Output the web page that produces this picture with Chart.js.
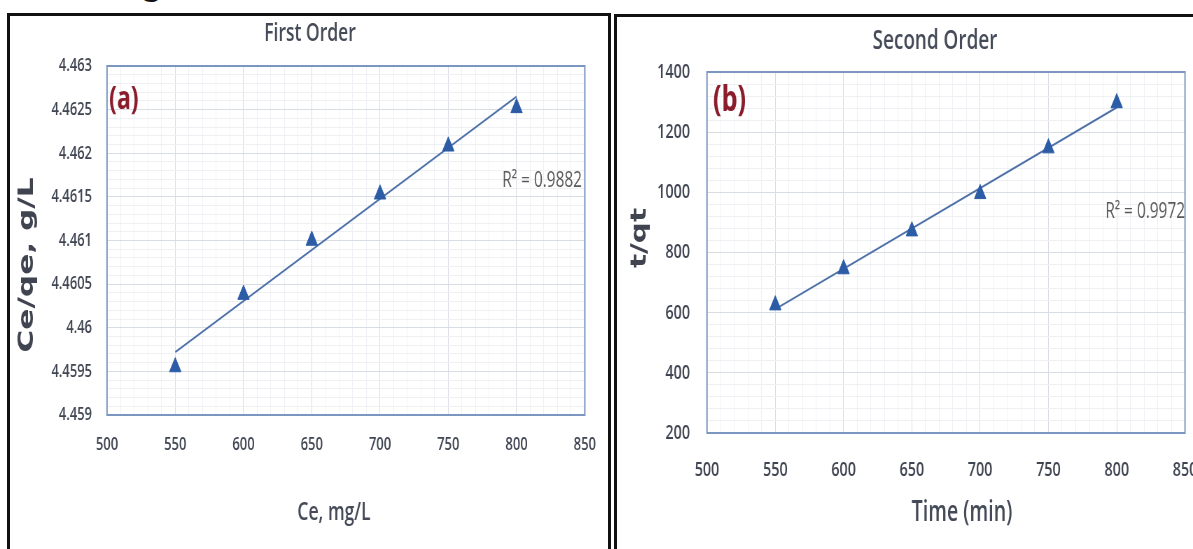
<!DOCTYPE html>
<html>
<head>
<meta charset="utf-8">
<script src="https://cdn.jsdelivr.net/npm/chart.js@4/dist/chart.umd.min.js"></script>
<style>
  html, body { margin: 0; padding: 0; background: #fff; }
  body { width: 1193px; height: 549px; position: relative; overflow: hidden; }
  canvas { position: absolute; top: 0; transform-origin: 0 0; }
  .panel { position: absolute; box-sizing: border-box; border: 3px solid #111; pointer-events: none; }
  .cut { position: absolute; left: 141px; top: -44px; font: 40px Lato, sans-serif; color: #111; }
</style>
</head>
<body>
<div class="cut">g</div>
<canvas id="first"></canvas>
<canvas id="second"></canvas>
<div class="panel" style="left:7px; top:13px; width:604px; height:560px;"></div>
<div class="panel" style="left:614px; top:14px; width:600px; height:560px;"></div>
<script>
'use strict';

// ── Dati ───────────────────────────────────────────────────────
const firstX = [550, 600, 650, 700, 750, 800];
const firstY = [4.45955, 4.46038, 4.46100, 4.46153, 4.46208, 4.46252];
const firstTrendX = [550, 800];
const firstTrendY = [4.45972, 4.46265];
const firstXTicks = [500, 550, 600, 650, 700, 750, 800, 850];
const firstYTicks = [4.459, 4.4595, 4.46, 4.4605, 4.461, 4.4615, 4.462, 4.4625, 4.463];

const secondX = [550, 600, 650, 700, 750, 800];
const secondY = [625, 745, 871, 995, 1147, 1297];
const secondTrendX = [550, 800];
const secondTrendY = [612, 1282];
const secondXTicks = [500, 550, 600, 650, 700, 750, 800, 850];
const secondYTicks = [200, 400, 600, 800, 1000, 1200, 1400];

// ── Stili ──────────────────────────────────────────────────────
// il grafico originale è "schiacciato" in orizzontale: disegno largo e comprimo con CSS
const SX = 0.7;
const FONT = "'Open Sans', Lato, sans-serif";
const TICK = '#3f4552';
const LABEL = '#444a57';
const MAJOR = '#d8dce3';
const MINOR = '#eef0f4';
const MARKER = '#2c5ca6';
const TREND = '#4d70a8';

function px(x) { return x / SX; }
function pts(xs, ys) { return xs.map((x, i) => ({ x: x, y: ys[i] })); }

function axis(ticksArr, o) {
  const major = +(ticksArr[1] - ticksArr[0]).toPrecision(6);
  const minor = +(major / 5).toPrecision(6);
  const find = v => ticksArr.find(t => Math.abs(t - v) < minor / 10);
  return {
    type: 'linear',
    min: ticksArr[0],
    max: ticksArr[ticksArr.length - 1],
    ticks: {
      stepSize: minor, autoSkip: false, maxRotation: 0, padding: o.pad,
      color: TICK, font: { family: FONT, size: o.size, weight: '600' },
      callback: v => { const t = find(v); return t === undefined ? '' : String(t); }
    },
    grid: { drawTicks: false, lineWidth: 1, color: c => find(c.tick.value) === undefined ? MINOR : MAJOR },
    border: { display: false },
    afterFit: s => {
      if (s.isHorizontal()) { s.height = o.fit; s.paddingLeft = 0; s.paddingRight = 0; }
      else s.width = o.fit;
    }
  };
}

function drawText(ctx, t) {
  ctx.save();
  ctx.font = t.font;
  ctx.fillStyle = t.color;
  ctx.textAlign = t.align || 'center';
  ctx.textBaseline = 'middle';
  ctx.translate(px(t.x), t.y);
  if (t.rotate) ctx.rotate(t.rotate);
  if (t.len) ctx.scale(t.len / ctx.measureText(t.text).width, 1);
  ctx.fillText(t.text, 0, 0);
  ctx.restore();
}

const frame = {
  id: 'frame',
  beforeDatasetsDraw(chart) {
    const a = chart.chartArea, ctx = chart.ctx;
    ctx.save();
    ctx.strokeStyle = '#7b96c0';
    ctx.lineWidth = 2;
    ctx.strokeRect(a.left, a.top, a.right - a.left, a.bottom - a.top);
    ctx.restore();
  }
};

function textPlugin(texts) {
  return { id: 'texts', afterDraw(chart) { texts.forEach(t => drawText(chart.ctx, t)); } };
}

function makeChart(id, d) {
  const cv = document.getElementById(id);
  cv.width = Math.round(px(d.width));
  cv.height = 549;
  cv.style.left = d.left + 'px';
  cv.style.transform = 'scaleX(' + SX + ')';
  return new Chart(cv, {
    type: 'scatter',
    data: {
      datasets: [{
        data: pts(d.x, d.y),
        showLine: false,
        pointStyle: 'triangle',
        pointRadius: 9.5,
        pointBackgroundColor: MARKER,
        pointBorderColor: MARKER,
        pointBorderWidth: 1
      }, {
        data: pts(d.tx, d.ty),
        showLine: true,
        borderColor: TREND,
        borderWidth: 2,
        pointRadius: 0
      }]
    },
    options: {
      responsive: false,
      animation: false,
      layout: { padding: d.padding },
      plugins: { legend: { display: false }, tooltip: { enabled: false } },
      scales: { x: d.xAxis, y: d.yAxis }
    },
    plugins: [frame, textPlugin(d.texts)]
  });
}

makeChart('first', {
  left: 0, width: 612,
  x: firstX, y: firstY, tx: firstTrendX, ty: firstTrendY,
  padding: { top: 66, right: px(27), left: 0, bottom: 0 },
  xAxis: axis(firstXTicks, { pad: 19, size: 18.5, fit: 134 }),
  yAxis: axis(firstYTicks, { pad: px(15), size: 18.5, fit: px(107) }),
  texts: [
    { text: 'First Order', x: 310, y: 34, font: '600 25px ' + FONT, color: LABEL },
    { text: '(a)', x: 109, y: 100, align: 'left', font: 'bold 33px ' + FONT, color: '#8a1c2c' },
    { text: 'R\u00B2 = 0.9882', x: 582, y: 181, align: 'right', font: '22px ' + FONT, color: '#595959' },
    { text: 'Ce, mg/L', x: 334, y: 513, font: '600 25px ' + FONT, color: LABEL },
    { text: 'Ce/qe, g/L', x: 27, y: 265, rotate: -Math.PI / 2, len: 175, font: "bold 31px 'DejaVu Sans', sans-serif", color: '#3f4450' }
  ]
});

makeChart('second', {
  left: 612, width: 581,
  x: secondX, y: secondY, tx: secondTrendX, ty: secondTrendY,
  padding: { top: 72, right: px(8), left: 0, bottom: 0 },
  xAxis: axis(secondXTicks, { pad: 25, size: 20.5, fit: 116 }),
  yAxis: axis(secondYTicks, { pad: px(17), size: 20.5, fit: px(95) }),
  texts: [
    { text: 'Second Order', x: 323, y: 41, font: '600 27px ' + FONT, color: LABEL },
    { text: '(b)', x: 101, y: 101, align: 'left', font: 'bold 36px ' + FONT, color: '#8a1c2c' },
    { text: 'R\u00B2 = 0.9972', x: 573, y: 212, align: 'right', font: '22px ' + FONT, color: '#595959' },
    { text: 'Time (min)', x: 350, y: 513, font: '600 28px ' + FONT, color: LABEL },
    { text: 't/qt', x: 28, y: 238, rotate: -Math.PI / 2, len: 60, font: "bold 31px 'DejaVu Sans', sans-serif", color: '#3f4450' }
  ]
});
</script>
</body>
</html>
